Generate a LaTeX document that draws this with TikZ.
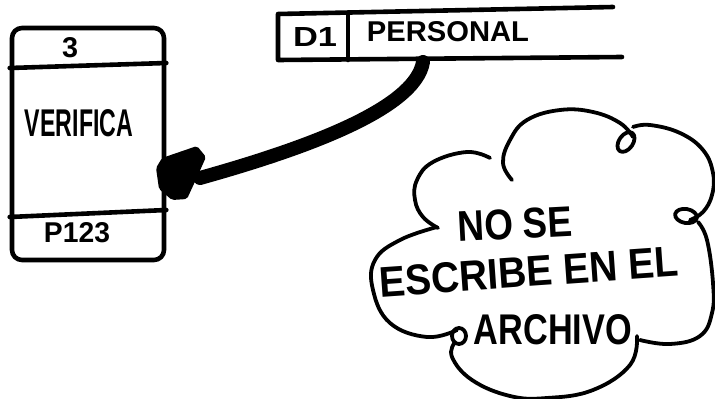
\documentclass[tikz,border=0pt]{standalone}
\usepackage{fontspec}
\setmainfont{Liberation Sans}
\usepackage{graphicx}
\newcommand{\hw}[3]{\resizebox{#1pt}{#2pt}{\bfseries #3}}
\begin{document}
\begin{tikzpicture}[x=1pt,y=-1pt,
  pen/.style={line width=4.6pt, line cap=round, line join=round},
  cloudpen/.style={line width=3.8pt, line cap=round, line join=round},
  txt/.style={inner sep=0pt, outer sep=0pt}]
\useasboundingbox (0,0) rectangle (715,399);
% process box
\node (proc) [draw, pen, rounded corners=10pt, minimum width=152pt, minimum height=232pt, inner sep=0pt] at (88,144) {};
\draw[pen] (proc.north west |- 0,68) -- (proc.north east |- 0,63);
\draw[pen] (proc.south west |- 0,217) -- (proc.south east |- 0,210);
\node[txt] (pnum) at (70,48) {\hw{16}{20}{3}};
\node[txt] (pname) at (79,123) {\hw{108}{27}{VERIFICA}};
\node[txt] (ploc) at (77,233) {\hw{66}{20}{P123}};
% data store
\coordinate (s1) at (278,14);
\coordinate (s2) at (613,7);
\coordinate (s3) at (278,60);
\coordinate (s4) at (622,57);
\draw[pen] (s2) -- (s1) -- (s3) -- (s4);
\draw[pen] (348,14) -- (348,60);
\node[txt] (sid) at (315,37) {\hw{44}{19}{D1}};
\node[txt] (sname) at (448,32) {\hw{162}{20}{PERSONAL}};
\node[inner sep=0pt, minimum width=344pt, minimum height=46pt] (store) at (450,36) {};
% flow arrow
\coordinate (a0) at (423,62);
\coordinate (a1) at (200,178);
\draw[line width=14pt, line cap=round] (a0) .. controls (415,110) and (300,150) .. (a1);
\fill[rounded corners=2pt] (197,146) -- (206,157) -- (198,175) -- (187,199) -- (172,200) -- (159,189) -- (156,168) -- (162,158) -- cycle;
% cloud
\draw[cloudpen] plot[smooth, tension=0.7] coordinates {(438,228) (423,217) (415,200) (417,180) (433,162) (467,152) (490,158)};
\draw[cloudpen] plot[smooth, tension=0.7] coordinates {(512,180) (503,163) (510,140) (527,120) (560,110) (593,112) (620,123) (633,137)};
\draw[cloudpen, rotate around={-35:(626,142)}] (626,142) ellipse [x radius=7pt, y radius=11pt];
\draw[cloudpen] plot[smooth, tension=0.7] coordinates {(633,127) (650,125) (680,133) (703,150) (713,173) (712,195) (703,212) (690,220)};
\draw[cloudpen, rotate around={-10:(686,216)}] (686,216) ellipse [x radius=11pt, y radius=7pt];
\draw[cloudpen] plot[smooth, tension=0.7] coordinates {(698,222) (707,240) (713,283) (712,313) (700,336) (670,344) (640,340)};
\draw[cloudpen] plot[smooth, tension=0.7] coordinates {(637,336) (630,365) (593,390) (547,398) (510,396) (472,380) (452,357) (455,342)};
\draw[cloudpen] (459,336) ellipse [x radius=7pt, y radius=8pt];
\draw[cloudpen] plot[smooth, tension=0.7] coordinates {(457,330) (427,337) (390,323) (373,290) (375,260) (400,240) (437,227)};
\node[txt, rotate=3] (c1) at (515,224) {\hw{115}{30}{NO SE}};
\node[txt, rotate=4] (c2) at (529,272) {\hw{300}{30}{ESCRIBE EN EL}};
\node[txt] (c3) at (553,330) {\hw{158}{30}{ARCHIVO}};
\end{tikzpicture}
\end{document}
